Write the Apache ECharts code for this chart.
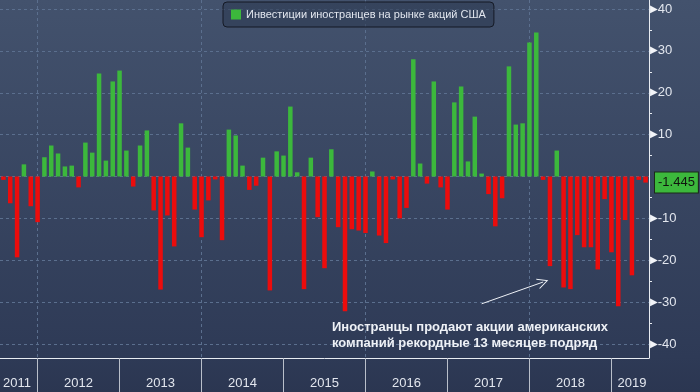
<!DOCTYPE html>
<html>
<head>
<meta charset="utf-8">
<script src="https://cdn.jsdelivr.net/npm/echarts@6/dist/echarts.min.js"></script>
<style>
html,body{margin:0;padding:0;background:#2b3651;}
#chart{width:700px;height:392px;}
</style>
</head>
<body>
<div id="chart"></div>
<script>
// ---- data ----
var startYear = 2011, startMonth = 7, monthCount = 95;
var categories = [];
for (var i = 0; i < monthCount; i++) {
  var m = startMonth - 1 + i;
  var y = startYear + Math.floor(m / 12);
  var mm = (m % 12) + 1;
  categories.push(y + '-' + (mm < 10 ? '0' + mm : '' + mm));
}
var values2011 = [-0.8, -6.4, -19.3, 2.9, -7.1, -10.9];
var values2012 = [4.6, 7.4, 5.5, 2.4, 2.6, -2.6, 8.1, 5.7, 24.6, 3.8, 22.7, 25.3];
var values2013 = [6.2, -2.4, 7.4, 11.0, -8.1, -27.0, -9.3, -16.7, 12.7, 6.9, -7.9, -14.5];
var values2014 = [-5.7, -0.7, -15.2, 11.2, 9.8, 2.6, -3.2, -2.2, 4.5, -27.2, 6.0, 5.0];
var values2015 = [16.7, 1.0, -26.9, 4.5, -9.7, -21.9, 6.5, -12.1, -32.2, -12.6, -12.9, -13.5];
var values2016 = [1.2, -14.1, -15.9, -0.7, -10.0, -7.5, 28.0, 3.1, -1.7, 22.7, -2.6, -7.9];
var values2017 = [17.7, 21.5, 3.6, 14.3, 0.7, -4.2, -11.9, -5.2, 26.3, 12.4, 12.7, 32.0];
var values2018 = [34.4, -0.8, -21.4, 6.2, -26.5, -26.9, -14.0, -16.9, -16.9, -22.2, -5.4, -18.1];
var values2019 = [-31.0, -10.4, -23.6, -0.8, -1.445];
var values = [].concat(values2011, values2012, values2013, values2014, values2015,
                       values2016, values2017, values2018, values2019);
var lastValue = -1.445;
var seriesName = 'Инвестиции иностранцев на рынке акций США';
var yearLabelAt = ['2011-09', '2012-06', '2013-06', '2014-06', '2015-06', '2016-06', '2017-06', '2018-06', '2019-03'];
var gridLineAt = ['2011-12', '2013-12', '2015-12', '2017-12'];
var yTicks = [-40, -30, -20, -10, 0, 10, 20, 30, 40];
var annotation = ['Иностранцы продают акции американских', 'компаний рекордные 13 месяцев подряд'];
var arrowFrom = ['2017-05', -30.4];
var arrowTo = ['2018-02', -25.2];

// ---- chart ----
var GREEN = '#3cb83c', RED = '#ec0c0c';
var font = 'Liberation Sans, Arial, sans-serif';
var chart = echarts.init(document.getElementById('chart'), null, {renderer: 'canvas'});
chart.setOption({
  animation: false,
  backgroundColor: {
    type: 'linear', x: 0, y: 0, x2: 0, y2: 1,
    colorStops: [{offset: 0, color: '#43526d'}, {offset: 0.91, color: '#2e3a56'}, {offset: 1, color: '#2b3651'}]
  },
  title: {
    text: annotation.join('\n'),
    left: 327, top: 314,
    textStyle: {color: '#eef1f6', fontSize: 13, fontWeight: 'bold', lineHeight: 16, fontFamily: font}
  },
  legend: {
    data: [{name: seriesName, itemStyle: {color: GREEN}}],
    left: 223, top: 2,
    padding: [7, 8],
    itemWidth: 10, itemHeight: 10, itemGap: 5,
    icon: 'rect',
    backgroundColor: 'rgba(44,56,80,0.55)',
    borderColor: '#141925', borderWidth: 1, borderRadius: 4,
    textStyle: {color: '#e2e6ee', fontSize: 11, fontFamily: font}
  },
  grid: [
    {left: 0, right: 51, top: 9, bottom: 48},
    {left: 0, right: 51, top: 0, bottom: 34}
  ],
  xAxis: [
    {gridIndex: 0, type: 'category', data: categories, show: false},
    {
      gridIndex: 1, type: 'category', data: categories, boundaryGap: true,
      axisLine: {show: true, lineStyle: {color: '#e8ecf2', width: 1}},
      axisTick: {
        show: true, alignWithLabel: true, length: 34, inside: false,
        interval: function (idx, v) { return v.slice(5) === '12'; },
        lineStyle: {color: '#b9bfca', width: 1}
      },
      axisLabel: {
        show: true, margin: 19,
        interval: function (idx, v) { return yearLabelAt.indexOf(v) >= 0; },
        formatter: function (v) { return v.slice(0, 4); },
        color: '#e2e6ee', fontSize: 13, fontFamily: font
      },
      splitLine: {
        show: true, alignWithLabel: true,
        interval: function (idx, v) { return gridLineAt.indexOf(v) >= 0; },
        lineStyle: {color: '#5b6f8e', type: [3, 3], width: 1}
      }
    }
  ],
  yAxis: [
    {
      gridIndex: 0, type: 'value', position: 'right',
      min: yTicks[0], max: yTicks[yTicks.length - 1], interval: 10,
      axisLine: {show: false},
      axisTick: {show: false},
      minorTick: {show: true, splitNumber: 2, length: 3, lineStyle: {color: '#e8ecf2'}},
      axisLabel: {
        margin: 1,
        formatter: function (v) { return v === 0 ? '' : '{t|\u25B6}{v|' + v + '}'; },
        rich: {
          t: {color: '#f2f4f8', fontSize: 10, fontFamily: 'DejaVu Sans'},
          v: {color: '#e2e6ee', fontSize: 13, fontFamily: font}
        }
      },
      splitLine: {show: true, lineStyle: {color: '#5b6f8e', type: [3, 3], width: 1}}
    },
    {
      gridIndex: 1, type: 'value', position: 'right', min: 0, max: 1,
      axisLine: {show: true, lineStyle: {color: '#e8ecf2', width: 1}},
      axisTick: {show: false}, axisLabel: {show: false}, splitLine: {show: false}
    }
  ],
  series: [{
    name: seriesName,
    type: 'bar',
    xAxisIndex: 0, yAxisIndex: 0,
    data: values,
    barWidth: 4.5,
    itemStyle: {color: function (p) { return p.value < 0 ? RED : GREEN; }},
    markLine: {
      silent: true,
      animation: false,
      data: [
        {
          yAxis: lastValue,
          symbol: 'none',
          lineStyle: {color: 'rgba(0,0,0,0)', width: 0},
          label: {
            show: true, position: 'end', distance: 6,
            formatter: String(lastValue),
            backgroundColor: GREEN, color: '#10140f',
            borderColor: '#1b2a18', borderWidth: 1,
            padding: [4, 3, 3, 3], fontSize: 13, fontFamily: font
          }
        },
        [
          {coord: arrowFrom, symbol: 'none'},
          {coord: arrowTo, symbol: 'path://M0,10 L5,0 L10,10 L9,10 L5,2 L1,10 Z', symbolSize: [11, 11]}
        ]
      ],
      lineStyle: {color: '#eef1f6', width: 1, type: 'solid'},
      label: {show: false}
    }
  }]
});
</script>
</body>
</html>
